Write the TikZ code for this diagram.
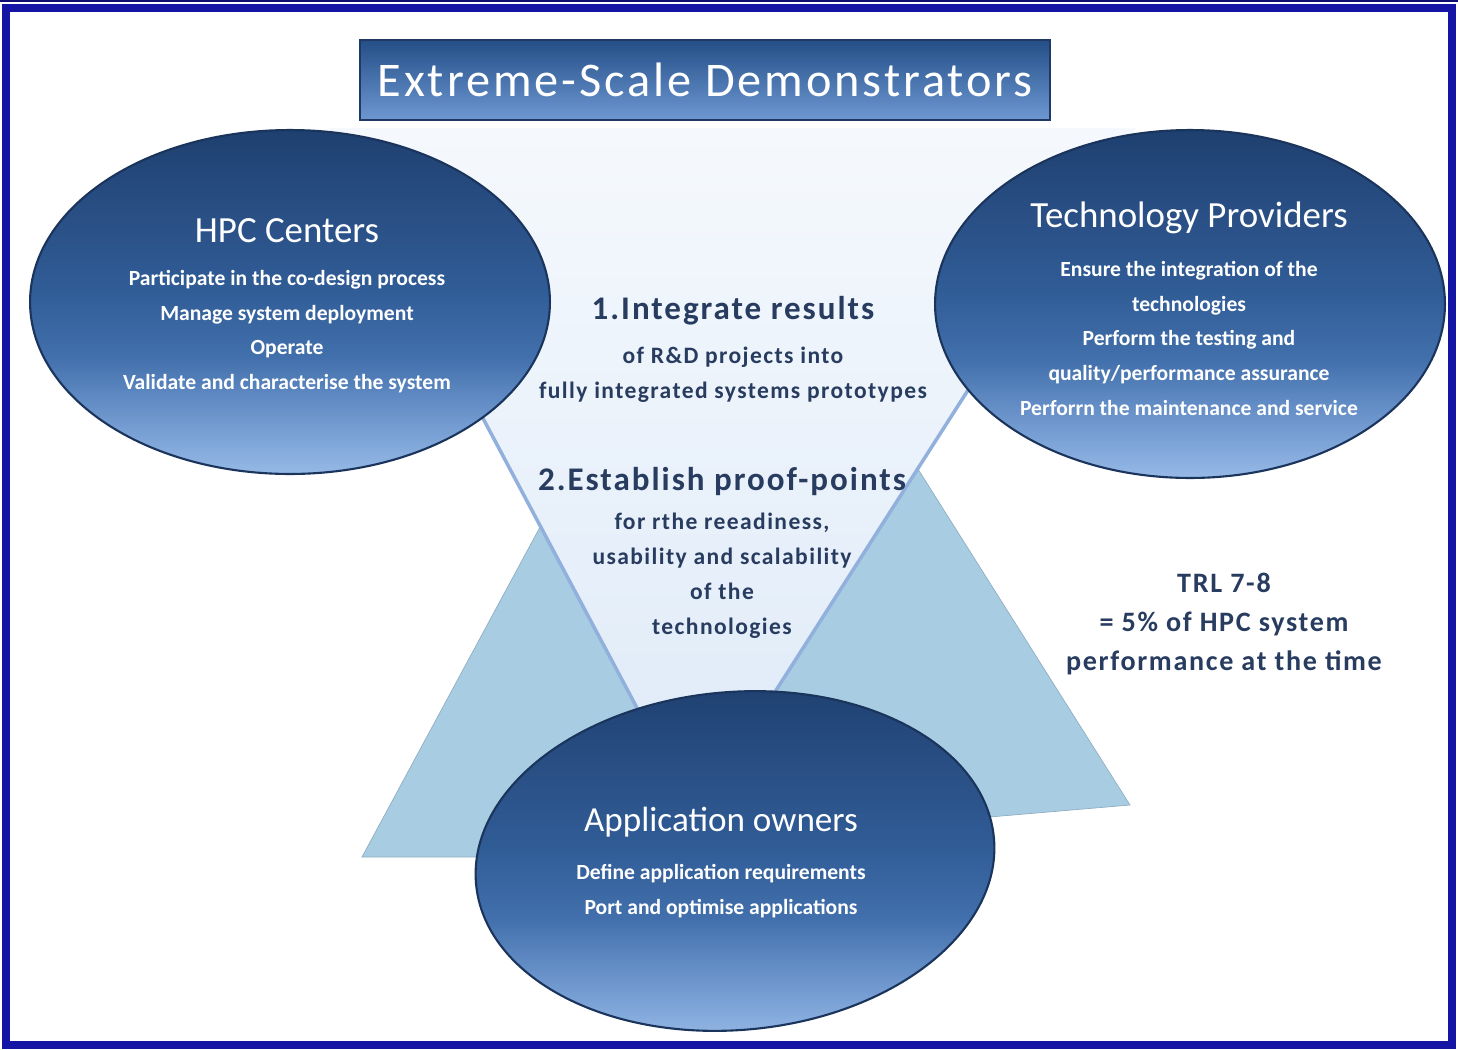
\documentclass[tikz,border=0pt]{standalone}
\usepackage{fontspec}
\setmainfont{Carlito}
\newfontfamily\spacedfont{Carlito}[LetterSpace=6]
\usetikzlibrary{positioning,shapes.geometric}

\definecolor{framecol}{RGB}{20,20,165}
\definecolor{bannertop}{RGB}{36,78,134}
\definecolor{bannerbot}{RGB}{110,152,210}
\definecolor{bannerline}{RGB}{30,58,100}
\definecolor{partytop}{RGB}{30,64,112}
\definecolor{partyhigh}{RGB}{42,80,134}
\definecolor{partymid}{RGB}{48,92,150}
\definecolor{partylow}{RGB}{66,112,172}
\definecolor{partysoft}{RGB}{116,156,210}
\definecolor{partybot}{RGB}{150,185,230}
\definecolor{partyline}{RGB}{26,52,92}
\definecolor{funnelfill}{RGB}{222,234,248}
\definecolor{funneledge}{RGB}{146,176,220}
\definecolor{peakfill}{RGB}{168,205,227}
\definecolor{inkblue}{RGB}{40,60,96}

\pgfdeclareverticalshading{partyshade}{100bp}{color(0bp)=(partybot); color(25bp)=(partybot);
  color(32bp)=(partysoft); color(42bp)=(partylow); color(52bp)=(partymid); color(62bp)=(partyhigh);
  color(75bp)=(partytop); color(100bp)=(partytop)}

\begin{document}
\begin{tikzpicture}[x=0.02cm,y=-0.02cm,node distance=15pt,
    party/.style={ellipse,draw=partyline,line width=1.2pt,shading=partyshade,inner sep=0pt},
    partyname/.style={text=white,inner sep=0pt,font=\fontsize{21}{24}\selectfont},
    partyduty/.style={text=white,inner sep=0pt,align=center,font=\bfseries\fontsize{12.3}{19.8}\selectfont},
    pointhead/.style={text=inkblue,inner sep=0pt,font=\spacedfont\bfseries\fontsize{18.8}{22}\selectfont},
    pointbody/.style={text=inkblue,inner sep=0pt,align=center,font=\spacedfont\bfseries\fontsize{13.4}{19.9}\selectfont},
    peak/.style={fill=peakfill,draw=peakfill!85!black,line width=0.4pt},
    banner/.style={draw=bannerline,line width=1pt,top color=bannertop,bottom color=bannerbot,text=white,
        minimum width=13.8cm,minimum height=1.6cm,font=\spacedfont\fontsize{27.5}{30}\selectfont}]

\useasboundingbox (0,0) rectangle (1458,1049);

% frame
\draw[framecol!70!black,line width=0.05cm] (0,1) -- (1458,1);
\draw[framecol,line width=0.16cm] (6,8) rectangle (1452,1045);

% the two peaks behind
\draw[peak] (560,490) -- (362,857) -- (760,857) -- cycle;
\draw[peak] (887,420) -- (1130,805) -- (650,846) -- cycle;

% central funnel
\path[top color=funnelfill!30,bottom color=funnelfill] (329,128) -- (1136,128) -- (695,817) -- cycle;
\draw[funneledge,line width=0.07cm] (335,140) -- (695,817) -- (1128,140);

\node[banner] (banner) at (705,80) {Extreme-Scale Demonstrators};

% the three parties
\node[party,minimum width=10.4cm,minimum height=6.88cm] (hpc) at (290,302) {};
\node[party,minimum width=10.2cm,minimum height=6.96cm] (tech) at (1190,304) {};
\node[party,minimum width=10.4cm,minimum height=6.76cm,rotate=5] (app) at (735,861) {};

\node[partyname] (hpcName) at (287,231) {HPC Centers};
\node[partyduty,below=of hpcName] (hpcDuty) {Participate in the co-design process\\Manage system deployment\\Operate\\Validate and characterise the system};

\node[partyname] (techName) at (1189,218) {Technology Providers};
\node[partyduty,below=of techName] (techDuty) {Ensure the integration of the\\technologies\\Perform the testing and\\quality/performance assurance\\Perforrn the maintenance and service};

\node[partyname,font=\fontsize{20}{23}\selectfont] (appName) at (721,822) {Application owners};
\node[partyduty,below=of appName] (appDuty) {Define application requirements\\Port and optimise applications};

% what the demonstrators do
\node[pointhead] (integrate) at (733,311) {1.Integrate results};
\node[pointbody,below=12pt of integrate] (integrateBody) {of R\&D projects into\\fully integrated systems prototypes};

\node[pointhead] (proof) at (722,481) {2.Establish proof-points};
\node[pointbody,below=10pt of proof] (proofBody) {for rthe reeadiness,\\usability and scalability\\of the\\technologies};

\node[pointbody,font=\spacedfont\bfseries\fontsize{16}{22.2}\selectfont] (trl) at (1224,624) {TRL 7-8\\= 5\% of HPC system\\performance at the time};

\end{tikzpicture}
\end{document}
